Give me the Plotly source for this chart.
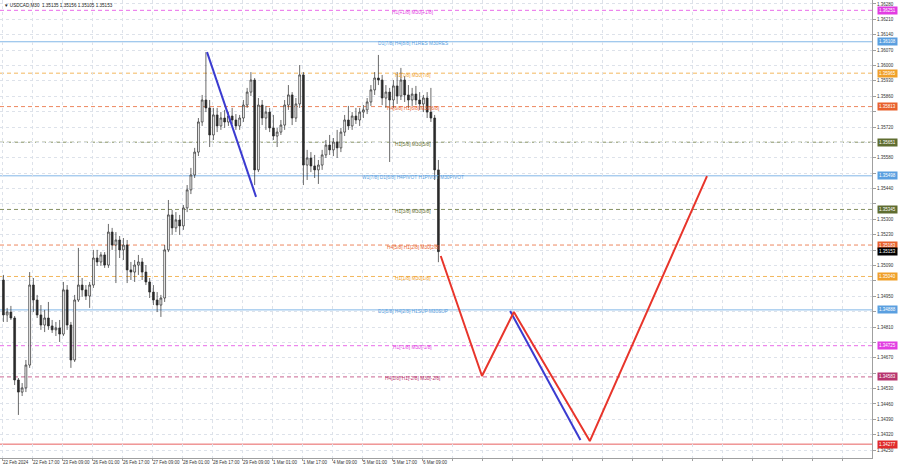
import plotly.graph_objects as go

# ---------------- data ----------------
symbol_header = "▼ USDCAD,M30  1.35135 1.35156 1.35105 1.35153"

x_tick_labels = ["22 Feb 2024", "22 Feb 17:00", "23 Feb 09:00", "26 Feb 01:00", "26 Feb 17:00",
                 "27 Feb 09:00", "28 Feb 01:00", "28 Feb 17:00", "29 Feb 09:00", "1 Mar 01:00",
                 "1 Mar 17:00", "4 Mar 09:00", "5 Mar 01:00", "5 Mar 17:00", "6 Mar 09:00"]
bars_per_label = 32          # M30 bars between time labels
bars_per_candle = 4          # each drawn candle aggregates 4 M30 bars (2 hours)

opens = [1.35024, 1.34865, 1.34878, 1.34851, 1.34569, 1.34514, 1.34533, 1.34637, 1.35001, 1.34933,
         1.34865, 1.34819, 1.34851, 1.34815, 1.34797, 1.34806, 1.34778, 1.34979, 1.34819, 1.34660,
         1.34933, 1.35001, 1.34979, 1.34951, 1.35001, 1.35124, 1.35106, 1.35138, 1.35092, 1.35242,
         1.35183, 1.35206, 1.35161, 1.35183, 1.35070, 1.35060, 1.35092, 1.35106, 1.35060, 1.35015,
         1.34969, 1.34933, 1.34910, 1.34942, 1.35161, 1.35320, 1.35261, 1.35297, 1.35270, 1.35352,
         1.35434, 1.35502, 1.35606, 1.35743, 1.35843, 1.35807, 1.35684, 1.35775, 1.35725, 1.35761,
         1.35743, 1.35770, 1.35752, 1.35725, 1.35761, 1.35820, 1.35879, 1.35934, 1.35525, 1.35820,
         1.35761, 1.35788, 1.35716, 1.35679, 1.35697, 1.35729, 1.35820, 1.35866, 1.35761, 1.35825,
         1.35957, 1.35547, 1.35579, 1.35543, 1.35525, 1.35547, 1.35593, 1.35638, 1.35616, 1.35652,
         1.35625, 1.35697, 1.35752, 1.35725, 1.35770, 1.35752, 1.35788, 1.35798, 1.35834, 1.35889,
         1.35943, 1.35934, 1.35852, 1.35879, 1.35843, 1.35907, 1.35861, 1.35934, 1.35866, 1.35843,
         1.35870, 1.35843, 1.35825, 1.35852, 1.35788, 1.35761, 1.35525]
highs = [1.35047, 1.34897, 1.34906, 1.34860, 1.34578, 1.34555, 1.34660, 1.35060, 1.35033, 1.34956,
         1.34910, 1.34888, 1.34924, 1.34842, 1.34833, 1.34842, 1.35015, 1.35001, 1.34833, 1.34956,
         1.35170, 1.35033, 1.35001, 1.35015, 1.35161, 1.35161, 1.35151, 1.35151, 1.35279, 1.35261,
         1.35242, 1.35224, 1.35215, 1.35206, 1.35106, 1.35115, 1.35138, 1.35124, 1.35092, 1.35033,
         1.35001, 1.34969, 1.34956, 1.35183, 1.35388, 1.35343, 1.35333, 1.35320, 1.35365, 1.35456,
         1.35534, 1.35625, 1.35761, 1.35866, 1.36061, 1.35843, 1.35807, 1.35807, 1.35788, 1.35798,
         1.35788, 1.35807, 1.35779, 1.35775, 1.35843, 1.35898, 1.35970, 1.35943, 1.35852, 1.35843,
         1.35816, 1.35807, 1.35775, 1.35716, 1.35752, 1.35843, 1.35911, 1.35879, 1.35852, 1.36002,
         1.35970, 1.35616, 1.35606, 1.35593, 1.35570, 1.35616, 1.35661, 1.35684, 1.35670, 1.35707,
         1.35716, 1.35775, 1.35816, 1.35788, 1.35807, 1.35807, 1.35820, 1.35852, 1.35911, 1.35970,
         1.36048, 1.35957, 1.35911, 1.35898, 1.35934, 1.35970, 1.35989, 1.35952, 1.35911, 1.35898,
         1.35907, 1.35879, 1.35866, 1.35879, 1.35898, 1.35775, 1.35570]
lows = [1.34833, 1.34833, 1.34842, 1.34546, 1.34410, 1.34496, 1.34514, 1.34624, 1.34878, 1.34851,
        1.34797, 1.34787, 1.34797, 1.34783, 1.34769, 1.34742, 1.34769, 1.34797, 1.34624, 1.34651,
        1.34924, 1.34947, 1.34933, 1.34897, 1.34988, 1.35088, 1.35088, 1.35079, 1.35079, 1.35161,
        1.35010, 1.35124, 1.35115, 1.35010, 1.35024, 1.35015, 1.35047, 1.35024, 1.35001, 1.34942,
        1.34910, 1.34878, 1.34856, 1.34924, 1.35151, 1.35229, 1.35242, 1.35229, 1.35252, 1.35333,
        1.35415, 1.35488, 1.35588, 1.35725, 1.35788, 1.35629, 1.35661, 1.35697, 1.35707, 1.35716,
        1.35725, 1.35734, 1.35707, 1.35707, 1.35743, 1.35807, 1.35861, 1.35456, 1.35515, 1.35729,
        1.35707, 1.35697, 1.35661, 1.35629, 1.35684, 1.35707, 1.35798, 1.35729, 1.35743, 1.35807,
        1.35456, 1.35479, 1.35515, 1.35488, 1.35461, 1.35525, 1.35579, 1.35593, 1.35588, 1.35579,
        1.35606, 1.35679, 1.35707, 1.35707, 1.35734, 1.35725, 1.35761, 1.35779, 1.35816, 1.35866,
        1.35911, 1.35820, 1.35807, 1.35561, 1.35807, 1.35825, 1.35843, 1.35834, 1.35807, 1.35816,
        1.35820, 1.35798, 1.35788, 1.35761, 1.35743, 1.35479, 1.35105]
closes = [1.34865, 1.34878, 1.34851, 1.34569, 1.34514, 1.34533, 1.34637, 1.35001, 1.34933, 1.34865,
          1.34819, 1.34851, 1.34815, 1.34797, 1.34806, 1.34778, 1.34979, 1.34819, 1.34660, 1.34933,
          1.35001, 1.34979, 1.34951, 1.35001, 1.35124, 1.35106, 1.35138, 1.35092, 1.35242, 1.35183,
          1.35206, 1.35161, 1.35183, 1.35070, 1.35060, 1.35092, 1.35106, 1.35060, 1.35015, 1.34969,
          1.34933, 1.34910, 1.34942, 1.35161, 1.35320, 1.35261, 1.35297, 1.35270, 1.35352, 1.35434,
          1.35502, 1.35606, 1.35743, 1.35843, 1.35807, 1.35684, 1.35775, 1.35725, 1.35761, 1.35743,
          1.35770, 1.35752, 1.35725, 1.35761, 1.35820, 1.35879, 1.35934, 1.35525, 1.35820, 1.35761,
          1.35788, 1.35716, 1.35679, 1.35697, 1.35729, 1.35820, 1.35866, 1.35761, 1.35825, 1.35957,
          1.35547, 1.35579, 1.35543, 1.35525, 1.35547, 1.35593, 1.35638, 1.35616, 1.35652, 1.35625,
          1.35697, 1.35752, 1.35725, 1.35770, 1.35752, 1.35788, 1.35798, 1.35834, 1.35889, 1.35943,
          1.35934, 1.35852, 1.35879, 1.35843, 1.35907, 1.35861, 1.35934, 1.35866, 1.35843, 1.35870,
          1.35843, 1.35825, 1.35852, 1.35788, 1.35761, 1.35525, 1.35153]

# Murrey-math style levels
level_prices = [1.36251, 1.36108, 1.35965, 1.35813, 1.35651, 1.35498, 1.35345,
                1.35183, 1.35040, 1.34888, 1.34725, 1.34583, 1.34277]
level_labels = ["H1[+1/8] M30[+1/8]", "D1[7/8] H4[8/8] H1RES M30RES", "H1[7/8] M30[7/8]",
                "H4[6/8] H1[6/8] M30[6/8]", "H1[5/8] M30[5/8]",
                "W1[7/8] D1[6/8] H4PIVOT H1PIVOT M30PIVOT", "H1[3/8] M30[3/8]",
                "H4[5/8] H1[2/8] M30[2/8]", "H1[1/8] M30[1/8]", "D1[5/8] H4[2/8] H1SUP M30SUP",
                "H1[-1/8] M30[-1/8]", "H4[1/8] H1[-2/8] M30[-2/8]", ""]
level_colors = ["#e23de2", "#5a9fe0", "#f0a028", "#e8612c", "#5f6d30", "#5a9fe0", "#5f6d30",
                "#e8612c", "#f0a028", "#5a9fe0", "#e23de2", "#b8356e", "#e02a2a"]
level_dash = ["dash", "solid", "dash", "dash", "dash", "solid", "dash",
              "dash", "dash", "solid", "dash", "dash", "solid"]
level_label_bar = 438       # bar index where level texts are centred

current_price = 1.35153

# Projection paths (bar index, price)
red_path_bars = [468, 512, 546, 627, 752]
red_path_prices = [1.35133, 1.34587, 1.34878, 1.34291, 1.35497]
blue_path1_bars = [218.7, 271]
blue_path1_prices = [1.36061, 1.35402]
blue_path2_bars = [542, 617]
blue_path2_prices = [1.34883, 1.34296]

y_tick_start, y_tick_step, y_tick_count = 1.34250, 0.0007, 30
y_range = [1.34214, 1.36298]
x_range = [-2.13, 928]

# ---------------- figure ----------------
candle_x = [bars_per_candle * j + 1.5 for j in range(len(opens))]

fig = go.Figure()
fig.add_trace(go.Candlestick(
    x=candle_x, open=opens, high=highs, low=lows, close=closes,
    increasing=dict(line=dict(color="#2a2a2a", width=0.7), fillcolor="#ffffff"),
    decreasing=dict(line=dict(color="#2a2a2a", width=0.7), fillcolor="#2a2a2a"),
    whiskerwidth=0, showlegend=False, hoverinfo="skip"))

fig.add_trace(go.Scatter(x=blue_path1_bars, y=blue_path1_prices, mode="lines",
                         line=dict(color="#3b3bd0", width=2), showlegend=False, hoverinfo="skip"))
fig.add_trace(go.Scatter(x=blue_path2_bars, y=blue_path2_prices, mode="lines",
                         line=dict(color="#3b3bd0", width=2), showlegend=False, hoverinfo="skip"))
fig.add_trace(go.Scatter(x=red_path_bars, y=red_path_prices, mode="lines",
                         line=dict(color="#e8352b", width=2), showlegend=False, hoverinfo="skip"))

shapes = []
annotations = []
for p, lab, col, dsh in zip(level_prices, level_labels, level_colors, level_dash):
    shapes.append(dict(type="line", xref="paper", x0=0, x1=1, yref="y", y0=p, y1=p,
                       line=dict(color=col, width=1, dash="4px,3px" if dsh == "dash" else "solid"),
                       opacity=0.75, layer="below"))
    if lab:
        annotations.append(dict(x=level_label_bar, y=p, xref="x", yref="y", text=lab,
                                showarrow=False, xanchor="center", yanchor="middle", yshift=-2,
                                font=dict(family="Liberation Sans", size=4.8, color=col)))
    annotations.append(dict(x=1, y=p, xref="paper", yref="y", text=f"{p:.5f}", showarrow=False,
                            xanchor="left", yanchor="middle", xshift=5, bgcolor=col,
                            borderpad=1, font=dict(family="Liberation Sans", size=4.5, color="#ffffff")))
annotations.append(dict(x=1, y=current_price, xref="paper", yref="y", text=f"{current_price:.5f}",
                        showarrow=False, xanchor="left", yanchor="middle", xshift=5, bgcolor="#000000",
                        borderpad=1, font=dict(family="Liberation Sans", size=4.5, color="#ffffff")))
annotations.append(dict(x=0, y=1, xref="paper", yref="paper", text=symbol_header, showarrow=False,
                        xanchor="left", yanchor="top", xshift=2, yshift=-1,
                        font=dict(family="Liberation Sans", size=4.6, color="#222222")))

x_tickvals = [bars_per_label * k for k in range(29)]
x_ticktext = x_tick_labels + [""] * (29 - len(x_tick_labels))
y_tickvals = [round(y_tick_start + y_tick_step * i, 5) for i in range(y_tick_count)]
tag_prices = level_prices + [current_price]
# tick labels hidden behind a price tag (as on the terminal's price scale)
y_ticktext = ["" if min(abs(v - t) for t in tag_prices) < 0.00025 else f"{v:.5f}"
              for v in y_tickvals]

fig.update_layout(
    width=900, height=468, margin=dict(l=0, r=28, t=0, b=10, pad=0, autoexpand=False),
    paper_bgcolor="#ffffff", plot_bgcolor="#ffffff",
    shapes=shapes, annotations=annotations, showlegend=False,
    xaxis=dict(range=x_range, tickvals=x_tickvals, ticktext=x_ticktext, tickangle=0,
               automargin=False,
               ticklabelposition="outside right", showgrid=True, gridcolor="#dde2ea",
               griddash="dot", gridwidth=1, zeroline=False, showline=True, linecolor="#a0a0a0",
               mirror=True, ticks="outside", ticklen=2, tickcolor="#a0a0a0",
               tickfont=dict(family="Liberation Sans", size=4.5, color="#333333"),
               rangeslider=dict(visible=False)),
    yaxis=dict(range=y_range, side="right", tickvals=y_tickvals, ticktext=y_ticktext,
               automargin=False,
               showgrid=True, gridcolor="#dde2ea", griddash="dot", gridwidth=1, zeroline=False,
               showline=True, linecolor="#a0a0a0", mirror=True, ticks="outside", ticklen=3,
               tickcolor="#a0a0a0",
               tickfont=dict(family="Liberation Sans", size=4.5, color="#333333")),
)

fig.write_html("out.html", config={"displayModeBar": False},
               post_script="document.body.style.margin='0';document.body.style.overflow='hidden';")
